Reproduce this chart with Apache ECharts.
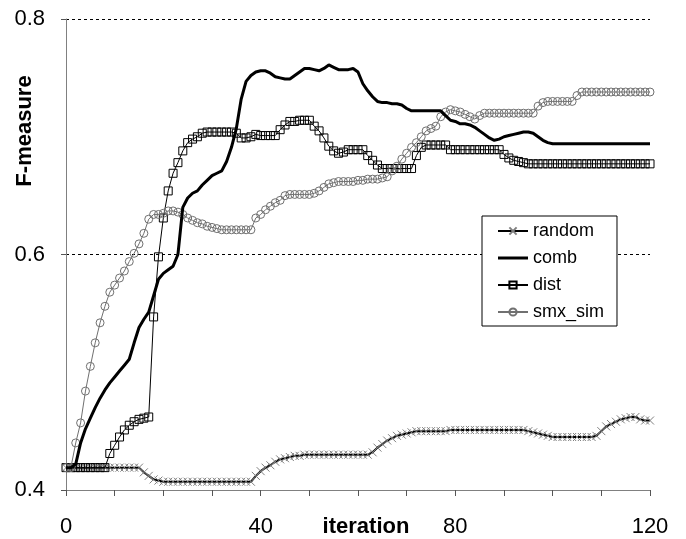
<!DOCTYPE html>
<html>
<head>
<meta charset="utf-8">
<script src="https://cdn.jsdelivr.net/npm/echarts@6/dist/echarts.min.js"></script>
<style>
html, body { margin: 0; padding: 0; background: #fff; }
#chart { width: 686px; height: 539px; }
</style>
</head>
<body>
<div id="chart"></div>
<script>
// F-measure per iteration (index = iteration 0..120)
var randomF = [
    0.419, 0.419, 0.419, 0.419, 0.419, 0.419, 0.419, 0.419, 0.419, 0.419,
    0.419, 0.419, 0.419, 0.419, 0.419, 0.419, 0.415, 0.412, 0.409, 0.408,
    0.407, 0.407, 0.407, 0.407, 0.407, 0.407, 0.407, 0.407, 0.407, 0.407,
    0.407, 0.407, 0.407, 0.407, 0.407, 0.407, 0.407, 0.407, 0.407, 0.412,
    0.416, 0.419, 0.421, 0.424, 0.426, 0.427, 0.428, 0.429, 0.429, 0.430,
    0.430, 0.430, 0.430, 0.430, 0.430, 0.430, 0.430, 0.430, 0.430, 0.430,
    0.430, 0.430, 0.430, 0.432, 0.436, 0.439, 0.442, 0.444, 0.446, 0.447,
    0.448, 0.449, 0.450, 0.450, 0.450, 0.450, 0.450, 0.450, 0.450, 0.451,
    0.451, 0.451, 0.451, 0.451, 0.451, 0.451, 0.451, 0.451, 0.451, 0.451,
    0.451, 0.451, 0.451, 0.451, 0.451, 0.450, 0.449, 0.448, 0.447, 0.446,
    0.445, 0.445, 0.445, 0.445, 0.445, 0.445, 0.445, 0.445, 0.445, 0.446,
    0.450, 0.454, 0.456, 0.458, 0.460, 0.461, 0.462, 0.462, 0.460, 0.459,
    0.459
];
var combF = [
    0.419, 0.419, 0.422, 0.440, 0.452, 0.461, 0.470, 0.478, 0.485, 0.491,
    0.496, 0.501, 0.506, 0.511, 0.525, 0.538, 0.545, 0.551, 0.565, 0.579,
    0.584, 0.587, 0.590, 0.600, 0.640, 0.648, 0.652, 0.654, 0.659, 0.663,
    0.667, 0.669, 0.671, 0.679, 0.691, 0.707, 0.732, 0.747, 0.752, 0.755,
    0.756, 0.756, 0.754, 0.751, 0.750, 0.749, 0.749, 0.752, 0.755, 0.758,
    0.758, 0.757, 0.756, 0.758, 0.761, 0.759, 0.757, 0.757, 0.757, 0.758,
    0.755, 0.745, 0.739, 0.734, 0.730, 0.729, 0.729, 0.728, 0.728, 0.727,
    0.724, 0.722, 0.722, 0.722, 0.722, 0.722, 0.722, 0.722, 0.718, 0.714,
    0.713, 0.711, 0.711, 0.710, 0.708, 0.705, 0.702, 0.699, 0.697, 0.698,
    0.700, 0.701, 0.702, 0.703, 0.704, 0.704, 0.703, 0.700, 0.697, 0.695,
    0.694, 0.694, 0.694, 0.694, 0.694, 0.694, 0.694, 0.694, 0.694, 0.694,
    0.694, 0.694, 0.694, 0.694, 0.694, 0.694, 0.694, 0.694, 0.694, 0.694,
    0.694
];
var distF = [
    0.419, 0.419, 0.419, 0.419, 0.419, 0.419, 0.419, 0.419, 0.419, 0.431,
    0.438, 0.445, 0.451, 0.455, 0.458, 0.460, 0.461, 0.462, 0.547, 0.598,
    0.631, 0.654, 0.669, 0.678, 0.688, 0.695, 0.698, 0.700, 0.703, 0.704,
    0.704, 0.704, 0.704, 0.704, 0.704, 0.703, 0.699, 0.699, 0.700, 0.702,
    0.701, 0.701, 0.701, 0.701, 0.706, 0.710, 0.713, 0.713, 0.714, 0.714,
    0.714, 0.709, 0.705, 0.699, 0.692, 0.688, 0.686, 0.687, 0.689, 0.689,
    0.689, 0.689, 0.684, 0.680, 0.676, 0.673, 0.673, 0.673, 0.673, 0.673,
    0.673, 0.673, 0.684, 0.691, 0.693, 0.693, 0.693, 0.693, 0.693, 0.689,
    0.689, 0.689, 0.689, 0.689, 0.689, 0.689, 0.689, 0.689, 0.689, 0.689,
    0.685, 0.682, 0.680, 0.679, 0.678, 0.677, 0.677, 0.677, 0.677, 0.677,
    0.677, 0.677, 0.677, 0.677, 0.677, 0.677, 0.677, 0.677, 0.677, 0.677,
    0.677, 0.677, 0.677, 0.677, 0.677, 0.677, 0.677, 0.677, 0.677, 0.677,
    0.677
];
var smxF = [
    0.419, 0.419, 0.440, 0.457, 0.484, 0.505, 0.525, 0.542, 0.556, 0.568,
    0.574, 0.580, 0.586, 0.594, 0.601, 0.609, 0.618, 0.630, 0.634, 0.634,
    0.635, 0.637, 0.637, 0.636, 0.634, 0.631, 0.629, 0.627, 0.626, 0.624,
    0.623, 0.622, 0.621, 0.621, 0.621, 0.621, 0.621, 0.621, 0.621, 0.631,
    0.634, 0.638, 0.641, 0.644, 0.646, 0.650, 0.651, 0.651, 0.651, 0.651,
    0.651, 0.652, 0.654, 0.657, 0.660, 0.661, 0.662, 0.662, 0.662, 0.662,
    0.663, 0.663, 0.664, 0.664, 0.664, 0.665, 0.666, 0.671, 0.675, 0.681,
    0.686, 0.691, 0.695, 0.700, 0.705, 0.707, 0.709, 0.717, 0.721, 0.723,
    0.722, 0.721, 0.719, 0.717, 0.715, 0.718, 0.720, 0.720, 0.720, 0.720,
    0.720, 0.720, 0.720, 0.720, 0.720, 0.720, 0.720, 0.726, 0.729, 0.730,
    0.730, 0.730, 0.730, 0.730, 0.730, 0.735, 0.738, 0.738, 0.738, 0.738,
    0.738, 0.738, 0.738, 0.738, 0.738, 0.738, 0.738, 0.738, 0.738, 0.738,
    0.738
];
var seriesNames = ['random', 'comb', 'dist', 'smx_sim'];
var xLabels = [0, 40, 80, 120];

var FONT = 'Liberation Sans, Arial, sans-serif';

// iteration number is the index in the list
function toPairs(list) {
    return list.map(function (v, i) { return [i, v]; });
}

var chart = echarts.init(document.getElementById('chart'));
chart.setOption({
    animation: false,
    backgroundColor: '#fff',
    grid: { left: 66, right: 36, top: 19, bottom: 49, outerBoundsMode: 'none', containLabel: false },
    legend: {
        orient: 'vertical',
        left: 482,
        top: 216,
        padding: [6, 13, 5, 15],
        itemGap: 9,
        itemWidth: 30,
        itemHeight: 9,
        backgroundColor: '#fff',
        borderColor: '#000',
        borderWidth: 1,
        borderRadius: 0,
        textStyle: { fontSize: 18, lineHeight: 18, color: '#000', fontFamily: FONT },
        data: [
            seriesNames[0],
            { name: seriesNames[1], icon: 'path://M0,0L30,0L30,3L0,3Z' },
            seriesNames[2],
            seriesNames[3]
        ]
    },
    xAxis: {
        type: 'value',
        min: 0,
        max: 120,
        interval: 10,
        name: 'iteration',
        nameLocation: 'middle',
        nameGap: 26,
        nameMoveOverlap: false,
        nameTextStyle: { fontSize: 22, fontWeight: 'bold', color: '#000', fontFamily: FONT, padding: [0, 0, 0, 16] },
        axisLine: { lineStyle: { color: '#808080', width: 1 } },
        axisTick: { length: 6, lineStyle: { color: '#555' } },
        axisLabel: {
            margin: 26,
            fontSize: 22,
            color: '#000',
            fontFamily: FONT,
            formatter: function (v) { return xLabels.indexOf(v) >= 0 ? String(v) : ''; }
        },
        splitLine: { show: false }
    },
    yAxis: {
        type: 'value',
        min: 0.4,
        max: 0.8,
        interval: 0.2,
        axisLine: { show: true, lineStyle: { color: '#808080', width: 1 } },
        axisTick: { show: true, length: 5, lineStyle: { color: '#555' } },
        axisLabel: {
            margin: 21,
            fontSize: 22,
            color: '#000',
            fontFamily: FONT,
            formatter: function (v) { return v.toFixed(1); }
        },
        splitLine: {
            show: true,
            showMinLine: false,
            lineStyle: { color: '#000', width: 1, type: [3, 3] }
        }
    },
    graphic: [{
        type: 'text',
        x: 25,
        y: 131,
        rotation: Math.PI / 2,
        style: {
            text: 'F-measure',
            fontSize: 22,
            fontWeight: 'bold',
            fontFamily: FONT,
            fill: '#000',
            align: 'center',
            verticalAlign: 'middle'
        }
    }],
    series: [{
        name: 'random',
        type: 'line',
        data: toPairs(randomF),
        symbol: 'path://M0,0L10,10M0,10L10,0',
        symbolSize: 8,
        showAllSymbol: true,
        lineStyle: { color: '#000', width: 2 },
        itemStyle: { color: '#808080', borderColor: '#808080', borderWidth: 1 },
        z: 2
    }, {
        name: 'comb',
        type: 'line',
        data: toPairs(combF),
        symbol: 'none',
        lineStyle: { color: '#000', width: 3 },
        itemStyle: { color: '#000' },
        z: 5
    }, {
        name: 'dist',
        type: 'line',
        data: toPairs(distF),
        symbol: 'rect',
        symbolSize: 8,
        showAllSymbol: true,
        lineStyle: { color: '#000', width: 1 },
        itemStyle: { color: 'rgba(255,255,255,0)', borderColor: '#000', borderWidth: 1 },
        z: 3
    }, {
        name: 'smx_sim',
        type: 'line',
        data: toPairs(smxF),
        symbol: 'circle',
        symbolSize: 8,
        showAllSymbol: true,
        lineStyle: { color: '#707070', width: 1 },
        itemStyle: { color: 'rgba(255,255,255,0)', borderColor: '#707070', borderWidth: 1 },
        z: 4
    }]
});
</script>
</body>
</html>
